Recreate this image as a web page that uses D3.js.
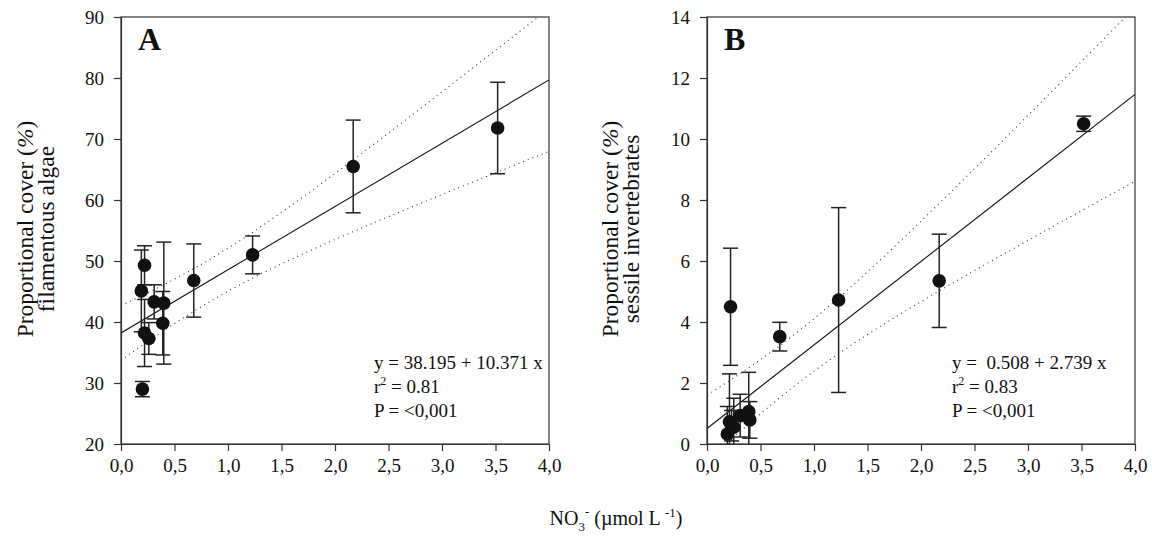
<!DOCTYPE html>
<html>
<head>
<meta charset="utf-8">
<script src="https://cdn.jsdelivr.net/npm/d3@7/dist/d3.min.js"></script>
<style>
  body { margin: 0; background: #fff; }
  svg { display: block; }
  text { font-family: "Liberation Serif", "Times New Roman", serif; fill: #111; }
</style>
</head>
<body>
<svg id="chart" width="1152" height="536"></svg>
<script>
// ---- data ----
const nitrateA = [0.19, 0.20, 0.22, 0.22, 0.26, 0.31, 0.39, 0.40, 0.68, 1.23, 2.17, 3.52];
const algaeCover = [45.1, 29.0, 49.3, 38.2, 37.3, 43.3, 39.8, 43.1, 46.8, 51.0, 65.5, 71.8];
const algaeSE = [6.7, 1.25, 3.2, 5.5, 2.6, 2.8, 5.2, 10.0, 6.0, 3.1, 7.6, 7.5];

const nitrateB = [0.19, 0.21, 0.22, 0.23, 0.25, 0.31, 0.39, 0.40, 0.68, 1.23, 2.17, 3.52];
const invertCover = [0.33, 0.73, 4.5, 0.6, 0.55, 0.93, 1.06, 0.79, 3.52, 4.72, 5.35, 10.5];
const invertSE = [0.9, 1.57, 1.92, 0.5, 0.95, 0.7, 1.29, 0.6, 0.47, 3.03, 1.53, 0.25];

const fitA = { a: 38.195, b: 10.371, r2: "0.81", p: "<0,001" };
const fitB = { a: 0.508, b: 2.739, r2: "0.83", p: "<0,001" };
const tCrit = 2.228; // t(0.975, df = 10)

const xTicks = [0, 0.5, 1, 1.5, 2, 2.5, 3, 3.5, 4];
const yTicksA = [20, 30, 40, 50, 60, 70, 80, 90];
const yTicksB = [0, 2, 4, 6, 8, 10, 12, 14];

// ---- layout ----
const plotW = 428, plotH = 427, plotTop = 17;
const svg = d3.select("#chart");
svg.append("rect").attr("width", 1152).attr("height", 536).attr("fill", "#fff");

const commaFmt = (f) => (d) => f(d).replace(".", ",");

function drawPanel(p) {
  const g = svg.append("g").attr("transform", "translate(" + p.left + "," + plotTop + ")");
  const x = d3.scaleLinear().domain([0, 4]).range([0, plotW]);
  const y = d3.scaleLinear().domain(p.yDomain).range([plotH, 0]);

  const clipId = "clip-" + p.name;
  g.append("clipPath").attr("id", clipId)
    .append("rect").attr("width", plotW).attr("height", plotH);

  // frame
  g.append("rect")
    .attr("width", plotW).attr("height", plotH)
    .attr("fill", "none").attr("stroke", "#333").attr("stroke-width", 1.2);

  const xAxis = g.append("g")
    .attr("transform", "translate(0," + plotH + ")")
    .call(d3.axisBottom(x).tickValues(xTicks).tickFormat(commaFmt(d3.format(".1f")))
      .tickSize(7).tickSizeOuter(0).tickPadding(8));
  const yAxis = g.append("g")
    .call(d3.axisLeft(y).tickValues(p.yTicks).tickFormat(d3.format("d"))
      .tickSize(7).tickSizeOuter(0).tickPadding(10));
  [xAxis, yAxis].forEach((ax) => {
    ax.attr("font-family", null).attr("font-size", null);
    ax.select(".domain").attr("stroke", "#333").attr("stroke-width", 1.2);
    ax.selectAll(".tick line").attr("stroke", "#333").attr("stroke-width", 1.2);
    ax.selectAll(".tick text")
      .attr("fill", "#111").style("font-size", "19px")
      .style("font-family", "'Liberation Serif', serif");
  });

  const inner = g.append("g").attr("clip-path", "url(#" + clipId + ")");

  // confidence band from residuals around the reported line
  const n = p.xs.length;
  const xbar = d3.mean(p.xs);
  const sxx = d3.sum(p.xs, (v) => (v - xbar) * (v - xbar));
  const sse = d3.sum(p.xs, (v, i) => Math.pow(p.ys[i] - (p.fit.a + p.fit.b * v), 2));
  const s2 = sse / (n - 2);
  const half = (v) => tCrit * Math.sqrt(s2 * (1 / n + (v - xbar) * (v - xbar) / sxx));
  const grid = d3.range(0, 4.001, 0.02);

  const line = d3.line().x((d) => x(d[0])).y((d) => y(d[1]));
  [1, -1].forEach((sign) => {
    inner.append("path")
      .attr("d", line(grid.map((v) => [v, p.fit.a + p.fit.b * v + sign * half(v)])))
      .attr("fill", "none").attr("stroke", "#333").attr("stroke-width", 1.1)
      .attr("stroke-dasharray", "1,4");
  });
  inner.append("path")
    .attr("d", line([[0, p.fit.a], [4, p.fit.a + p.fit.b * 4]]))
    .attr("fill", "none").attr("stroke", "#111").attr("stroke-width", 1.1);

  // error bars
  const pts = p.xs.map((v, i) => ({ x: v, y: p.ys[i], e: p.se[i] }));
  const cap = 7.5;
  const bars = inner.selectAll(".err").data(pts).enter().append("g").attr("class", "err")
    .attr("stroke", "#222").attr("stroke-width", 1.5);
  bars.append("line")
    .attr("x1", (d) => x(d.x)).attr("x2", (d) => x(d.x))
    .attr("y1", (d) => y(d.y + d.e)).attr("y2", (d) => y(d.y - d.e));
  bars.append("line")
    .attr("x1", (d) => x(d.x) - cap).attr("x2", (d) => x(d.x) + cap)
    .attr("y1", (d) => y(d.y + d.e)).attr("y2", (d) => y(d.y + d.e));
  bars.append("line")
    .attr("x1", (d) => x(d.x) - cap).attr("x2", (d) => x(d.x) + cap)
    .attr("y1", (d) => y(d.y - d.e)).attr("y2", (d) => y(d.y - d.e));

  g.selectAll(".pt").data(pts).enter().append("circle").attr("class", "pt")
    .attr("cx", (d) => x(d.x)).attr("cy", (d) => y(d.y))
    .attr("r", 6.8).attr("fill", "#111");

  // panel letter
  g.append("text").attr("x", 17).attr("y", 33)
    .style("font-size", "32px").style("font-weight", "bold").text(p.name);

  // regression text
  const t = g.append("text").attr("x", p.eqX).attr("y", 352)
    .style("font-size", "19px").style("white-space", "pre");
  t.append("tspan").attr("x", p.eqX).attr("dy", 0).text(p.eqText);
  const r2 = t.append("tspan").attr("x", p.eqX).attr("dy", 24);
  r2.append("tspan").text("r");
  r2.append("tspan").attr("dy", -8).style("font-size", "12px").text("2");
  r2.append("tspan").attr("dy", 8).text(" = " + p.fit.r2);
  t.append("tspan").attr("x", p.eqX).attr("dy", 24).text("P = " + p.fit.p);

  // y title
  const yt = svg.append("text")
    .attr("transform", "translate(" + p.titleX + "," + 229 + ") rotate(-90)")
    .attr("text-anchor", "middle").style("font-size", "23.5px");
  yt.append("tspan").attr("x", 0).attr("dy", "0.35em").text("Proportional cover (");
  yt.select("tspan").append("tspan").style("font-style", "italic").text("%");
  yt.select("tspan").append("tspan").text(")");
  yt.append("tspan").attr("x", 0).attr("dy", "0.88em").text(p.titleLine2);
}

drawPanel({
  name: "A", left: 121, xs: nitrateA, ys: algaeCover, se: algaeSE,
  yDomain: [20, 90], yTicks: yTicksA, fit: fitA,
  eqText: "y = 38.195 + 10.371 x", eqX: 253,
  titleX: 25, titleLine2: "filamentous algae"
});
drawPanel({
  name: "B", left: 707, xs: nitrateB, ys: invertCover, se: invertSE,
  yDomain: [0, 14], yTicks: yTicksB, fit: fitB,
  eqText: "y =  0.508 + 2.739 x", eqX: 245,
  titleX: 610, titleLine2: "sessile invertebrates"
});

// shared x title
const xt = svg.append("text").attr("x", 616).attr("y", 525)
  .attr("text-anchor", "middle").style("font-size", "20px");
xt.append("tspan").text("NO");
xt.append("tspan").attr("dy", 6).style("font-size", "13px").text("3");
xt.append("tspan").attr("dy", -15).style("font-size", "13px").text("-");
xt.append("tspan").attr("dy", 9).text(" (\u00b5mol L ");
xt.append("tspan").attr("dy", -8).style("font-size", "13px").text("-1");
xt.append("tspan").attr("dy", 8).text(")");
</script>
</body>
</html>
